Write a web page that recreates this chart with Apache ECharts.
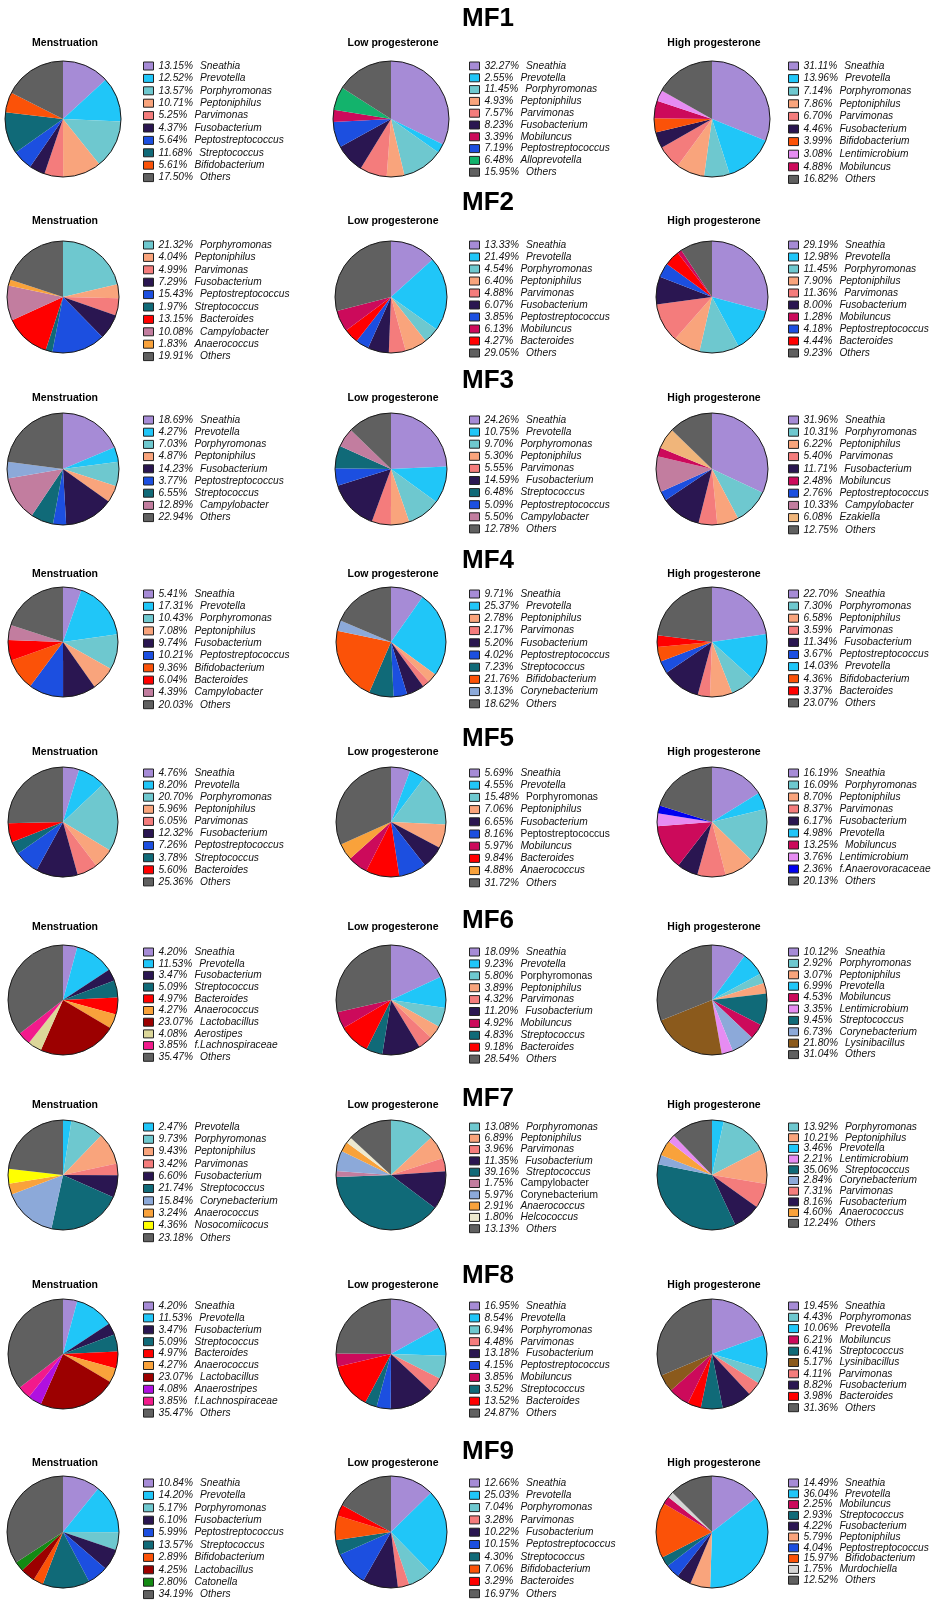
<!DOCTYPE html>
<html><head><meta charset="utf-8">
<script src="https://cdn.jsdelivr.net/npm/echarts@6/dist/echarts.min.js"></script>
<style>html,body{margin:0;padding:0;background:#fff}#c{width:934px;height:1600px}</style>
</head><body><div id="c"></div>
<script>
// ---------- DATA ----------
const rowTitles = ['MF1','MF2','MF3','MF4','MF5','MF6','MF7','MF8','MF9'];
const phases = ['Menstruation','Low progesterone','High progesterone'];

const MF1_men_taxa = ['Sneathia','Prevotella','Porphyromonas','Peptoniphilus','Parvimonas','Fusobacterium','Peptostreptococcus','Streptococcus','Bifidobacterium','Others'];
const MF1_men_pct  = [13.15,12.52,13.57,10.71,5.25,4.37,5.64,11.68,5.61,17.50];
const MF1_low_taxa = ['Sneathia','Prevotella','Porphyromonas','Peptoniphilus','Parvimonas','Fusobacterium','Mobiluncus','Peptostreptococcus','Alloprevotella','Others'];
const MF1_low_pct  = [32.27,2.55,11.45,4.93,7.57,8.23,3.39,7.19,6.48,15.95];
const MF1_high_taxa = ['Sneathia','Prevotella','Porphyromonas','Peptoniphilus','Parvimonas','Fusobacterium','Bifidobacterium','Lentimicrobium','Mobiluncus','Others'];
const MF1_high_pct  = [31.11,13.96,7.14,7.86,6.70,4.46,3.99,3.08,4.88,16.82];

const MF2_men_taxa = ['Porphyromonas','Peptoniphilus','Parvimonas','Fusobacterium','Peptostreptococcus','Streptococcus','Bacteroides','Campylobacter','Anaerococcus','Others'];
const MF2_men_pct  = [21.32,4.04,4.99,7.29,15.43,1.97,13.15,10.08,1.83,19.91];
const MF2_low_taxa = ['Sneathia','Prevotella','Porphyromonas','Peptoniphilus','Parvimonas','Fusobacterium','Peptostreptococcus','Mobiluncus','Bacteroides','Others'];
const MF2_low_pct  = [13.33,21.49,4.54,6.40,4.88,6.07,3.85,6.13,4.27,29.05];
const MF2_high_taxa = ['Sneathia','Prevotella','Porphyromonas','Peptoniphilus','Parvimonas','Fusobacterium','Mobiluncus','Peptostreptococcus','Bacteroides','Others'];
const MF2_high_pct  = [29.19,12.98,11.45,7.90,11.36,8.00,1.28,4.18,4.44,9.23];

const MF3_men_taxa = ['Sneathia','Prevotella','Porphyromonas','Peptoniphilus','Fusobacterium','Peptostreptococcus','Streptococcus','Campylobacter','Others'];
const MF3_men_pct  = [18.69,4.27,7.03,4.87,14.23,3.77,6.55,12.89,22.94];
const MF3_men_unlisted_taxa = ['Corynebacterium'];   // slice drawn in the pie but absent from its legend
const MF3_men_unlisted_pct  = [4.76];
const MF3_low_taxa = ['Sneathia','Prevotella','Porphyromonas','Peptoniphilus','Parvimonas','Fusobacterium','Streptococcus','Peptostreptococcus','Campylobacter','Others'];
const MF3_low_pct  = [24.26,10.75,9.70,5.30,5.55,14.59,6.48,5.09,5.50,12.78];
const MF3_high_taxa = ['Sneathia','Porphyromonas','Peptoniphilus','Parvimonas','Fusobacterium','Mobiluncus','Peptostreptococcus','Campylobacter','Ezakiella','Others'];
const MF3_high_pct  = [31.96,10.31,6.22,5.40,11.71,2.48,2.76,10.33,6.08,12.75];

const MF4_men_taxa = ['Sneathia','Prevotella','Porphyromonas','Peptoniphilus','Fusobacterium','Peptostreptococcus','Bifidobacterium','Bacteroides','Campylobacter','Others'];
const MF4_men_pct  = [5.41,17.31,10.43,7.08,9.74,10.21,9.36,6.04,4.39,20.03];
const MF4_low_taxa = ['Sneathia','Prevotella','Peptoniphilus','Parvimonas','Fusobacterium','Peptostreptococcus','Streptococcus','Bifidobacterium','Corynebacterium','Others'];
const MF4_low_pct  = [9.71,25.37,2.78,2.17,5.20,4.02,7.23,21.76,3.13,18.62];
const MF4_high_taxa = ['Sneathia','Porphyromonas','Peptoniphilus','Parvimonas','Fusobacterium','Peptostreptococcus','Prevotella','Bifidobacterium','Bacteroides','Others'];
const MF4_high_pct  = [22.70,7.30,6.58,3.59,11.34,3.67,14.03,4.36,3.37,23.07];

const MF5_men_taxa = ['Sneathia','Prevotella','Porphyromonas','Peptoniphilus','Parvimonas','Fusobacterium','Peptostreptococcus','Streptococcus','Bacteroides','Others'];
const MF5_men_pct  = [4.76,8.20,20.70,5.96,6.05,12.32,7.26,3.78,5.60,25.36];
const MF5_low_taxa = ['Sneathia','Prevotella','Porphyromonas','Peptoniphilus','Fusobacterium','Peptostreptococcus','Mobiluncus','Bacteroides','Anaerococcus','Others'];
const MF5_low_pct  = [5.69,4.55,15.48,7.06,6.65,8.16,5.97,9.84,4.88,31.72];
const MF5_high_taxa = ['Sneathia','Porphyromonas','Peptoniphilus','Parvimonas','Fusobacterium','Prevotella','Mobiluncus','Lentimicrobium','f.Anaerovoracaceae','Others'];
const MF5_high_pct  = [16.19,16.09,8.70,8.37,6.17,4.98,13.25,3.76,2.36,20.13];

const MF6_men_taxa = ['Sneathia','Prevotella','Fusobacterium','Streptococcus','Bacteroides','Anaerococcus','Lactobacillus','Aerostipes','f.Lachnospiraceae','Others'];
const MF6_men_pct  = [4.20,11.53,3.47,5.09,4.97,4.27,23.07,4.08,3.85,35.47];
const MF6_low_taxa = ['Sneathia','Prevotella','Porphyromonas','Peptoniphilus','Parvimonas','Fusobacterium','Mobiluncus','Streptococcus','Bacteroides','Others'];
const MF6_low_pct  = [18.09,9.23,5.80,3.89,4.32,11.20,4.92,4.83,9.18,28.54];
const MF6_high_taxa = ['Sneathia','Porphyromonas','Peptoniphilus','Prevotella','Mobiluncus','Lentimicrobium','Streptococcus','Corynebacterium','Lysinibacillus','Others'];
const MF6_high_pct  = [10.12,2.92,3.07,6.99,4.53,3.35,9.45,6.73,21.80,31.04];

const MF7_men_taxa = ['Prevotella','Porphyromonas','Peptoniphilus','Parvimonas','Fusobacterium','Streptococcus','Corynebacterium','Anaerococcus','Nosocomiicocus','Others'];
const MF7_men_pct  = [2.47,9.73,9.43,3.42,6.60,21.74,15.84,3.24,4.36,23.18];
const MF7_low_taxa = ['Porphyromonas','Peptoniphilus','Parvimonas','Fusobacterium','Streptococcus','Campylobacter','Corynebacterium','Anaerococcus','Helcococcus','Others'];
const MF7_low_pct  = [13.08,6.89,3.96,11.35,39.16,1.75,5.97,2.91,1.80,13.13];
const MF7_high_taxa = ['Porphyromonas','Peptoniphilus','Prevotella','Lentimicrobium','Streptococcus','Corynebacterium','Parvimonas','Fusobacterium','Anaerococcus','Others'];
const MF7_high_pct  = [13.92,10.21,3.46,2.21,35.06,2.84,7.31,8.16,4.60,12.24];

const MF8_men_taxa = ['Sneathia','Prevotella','Fusobacterium','Streptococcus','Bacteroides','Anaerococcus','Lactobacillus','Anaerostripes','f.Lachnospiraceae','Others'];
const MF8_men_pct  = [4.20,11.53,3.47,5.09,4.97,4.27,23.07,4.08,3.85,35.47];
const MF8_low_taxa = ['Sneathia','Prevotella','Porphyromonas','Parvimonas','Fusobacterium','Peptostreptococcus','Mobiluncus','Streptococcus','Bacteroides','Others'];
const MF8_low_pct  = [16.95,8.54,6.94,4.48,13.18,4.15,3.85,3.52,13.52,24.87];
const MF8_high_taxa = ['Sneathia','Porphyromonas','Prevotella','Mobiluncus','Streptococcus','Lysinibacillus','Parvimonas','Fusobacterium','Bacteroides','Others'];
const MF8_high_pct  = [19.45,4.43,10.06,6.21,6.41,5.17,4.11,8.82,3.98,31.36];

const MF9_men_taxa = ['Sneathia','Prevotella','Porphyromonas','Fusobacterium','Peptostreptococcus','Streptococcus','Bifidobacterium','Lactobacillus','Catonella','Others'];
const MF9_men_pct  = [10.84,14.20,5.17,6.10,5.99,13.57,2.89,4.25,2.80,34.19];
const MF9_low_taxa = ['Sneathia','Prevotella','Porphyromonas','Parvimonas','Fusobacterium','Peptostreptococcus','Streptococcus','Bifidobacterium','Bacteroides','Others'];
const MF9_low_pct  = [12.66,25.03,7.04,3.28,10.22,10.15,4.30,7.06,3.29,16.97];
const MF9_high_taxa = ['Sneathia','Prevotella','Mobiluncus','Streptococcus','Fusobacterium','Peptoniphilus','Peptostreptococcus','Bifidobacterium','Murdochiella','Others'];
const MF9_high_pct  = [14.49,36.04,2.25,2.93,4.22,5.79,4.04,15.97,1.75,12.52];

// order in which slices run clockwise from 12 o'clock
const sliceOrder = ['Sneathia','Prevotella','Porphyromonas','Peptoniphilus','Parvimonas','Fusobacterium','Peptostreptococcus','Streptococcus','Bifidobacterium','Bacteroides','Campylobacter','Mobiluncus','Corynebacterium','Anaerococcus','Lentimicrobium','Lactobacillus','Aerostipes','Anaerostripes','f.Lachnospiraceae','f.Anaerovoracaceae','Lysinibacillus','Nosocomiicocus','Helcococcus','Catonella','Alloprevotella','Ezakiella','Murdochiella','Others'];

// ---------- STYLE ----------
const taxonColor = {
  'Sneathia':'#a68bd6','Prevotella':'#20c6f8','Porphyromonas':'#6ec8cf','Peptoniphilus':'#f9a47c',
  'Parvimonas':'#f47c7c','Fusobacterium':'#2a1651','Peptostreptococcus':'#1c4fe0','Streptococcus':'#106a78',
  'Bifidobacterium':'#fb5208','Bacteroides':'#ff0000','Campylobacter':'#c27d9f','Mobiluncus':'#cc0a5b',
  'Corynebacterium':'#8ca9d9','Anaerococcus':'#f9a23b','Lentimicrobium':'#e68cf2','Lactobacillus':'#9c0000',
  'Aerostipes':'#dcd79a','Anaerostripes':'#b010e0','f.Lachnospiraceae':'#f21a8c','f.Anaerovoracaceae':'#0000f0',
  'Lysinibacillus':'#8b5a1c','Nosocomiicocus':'#ffff00','Helcococcus':'#ede9cf','Catonella':'#138a13',
  'Alloprevotella':'#13b36c','Ezakiella':'#f0b57a','Murdochiella':'#d5d5d5','Others':'#606060'
};
const uprightEntries = ['MF5|1|Porphyromonas','MF5|1|Peptostreptococcus','MF6|1|Porphyromonas','MF7|1|Campylobacter','MF7|1|Corynebacterium'];

const pieX = [63, 391, 712];
const legendX = [143, 469, 788];
const rowPieY = [119, 297, 469, 642, 822, 1000, 1175, 1354, 1532];
const rowRadius = [58, 56, 56, 55, 55, 55, 55, 55, 56];
const rowTitleY = [19, 203, 381, 561, 739, 921, 1099, 1276, 1452];
const rowSubY = [43, 221, 398, 574, 752, 927, 1105, 1285, 1463];
const rowLegendY = [66, 245, 420, 594, 773, 952, 1127, 1306, 1483];
const legendStep = [
  [12.4, 11.8, 12.6],[12.4, 12.0, 12.0],[12.2, 12.1, 12.2],
  [12.3, 12.2, 12.1],[12.1, 12.2, 12.0],[11.7, 11.9, 11.4],
  [12.3, 11.3, 10.7],[11.9, 11.9, 11.3],[12.4, 12.3, 10.8]];

const FONT = '"Liberation Sans Narrow","Arial Narrow","Liberation Sans",Arial,sans-serif';
const FONT_REG = '"Liberation Sans",Arial,sans-serif';
const LFS = 10.2;

// ---------- BUILD ----------
const sets = {
  MF1:[[MF1_men_taxa,MF1_men_pct],[MF1_low_taxa,MF1_low_pct],[MF1_high_taxa,MF1_high_pct]],
  MF2:[[MF2_men_taxa,MF2_men_pct],[MF2_low_taxa,MF2_low_pct],[MF2_high_taxa,MF2_high_pct]],
  MF3:[[MF3_men_taxa,MF3_men_pct,MF3_men_unlisted_taxa,MF3_men_unlisted_pct],[MF3_low_taxa,MF3_low_pct],[MF3_high_taxa,MF3_high_pct]],
  MF4:[[MF4_men_taxa,MF4_men_pct],[MF4_low_taxa,MF4_low_pct],[MF4_high_taxa,MF4_high_pct]],
  MF5:[[MF5_men_taxa,MF5_men_pct],[MF5_low_taxa,MF5_low_pct],[MF5_high_taxa,MF5_high_pct]],
  MF6:[[MF6_men_taxa,MF6_men_pct],[MF6_low_taxa,MF6_low_pct],[MF6_high_taxa,MF6_high_pct]],
  MF7:[[MF7_men_taxa,MF7_men_pct],[MF7_low_taxa,MF7_low_pct],[MF7_high_taxa,MF7_high_pct]],
  MF8:[[MF8_men_taxa,MF8_men_pct],[MF8_low_taxa,MF8_low_pct],[MF8_high_taxa,MF8_high_pct]],
  MF9:[[MF9_men_taxa,MF9_men_pct],[MF9_low_taxa,MF9_low_pct],[MF9_high_taxa,MF9_high_pct]]
};

const series = [], legends = [], graphics = [];
rowTitles.forEach((mf, r) => {
  graphics.push({type:'text', x:488, y:rowTitleY[r], style:{text:mf, font:'bold 26px '+FONT, fill:'#000', align:'center', verticalAlign:'middle'}});
  sets[mf].forEach((set, c) => {
    const [taxa, pct, extraTaxa, extraPct] = set;
    graphics.push({type:'text', x:pieX[c]+2, y:rowSubY[r], style:{text:phases[c], font:'bold 10.5px '+FONT_REG, fill:'#000', align:'center', verticalAlign:'middle'}});
    let items = taxa.map((t,i)=>({name:t, value:pct[i]}));
    if (extraTaxa) items = items.concat(extraTaxa.map((t,i)=>({name:t, value:extraPct[i]})));
    items.sort((a,b)=>sliceOrder.indexOf(a.name)-sliceOrder.indexOf(b.name));
    series.push({
      type:'pie', center:[pieX[c], rowPieY[r]], radius:rowRadius[r], startAngle:90, clockwise:true,
      silent:true, animation:false, avoidLabelOverlap:false, label:{show:false}, labelLine:{show:false},
      emphasis:{disabled:true},
      data: items.map(d=>({name:d.name, value:d.value, itemStyle:{color:taxonColor[d.name], borderWidth:0}}))
    });
    series.push({
      type:'pie', center:[pieX[c], rowPieY[r]], radius:rowRadius[r], silent:true, animation:false,
      label:{show:false}, labelLine:{show:false}, emphasis:{disabled:true}, z:5,
      data:[{name:'__outline', value:1, itemStyle:{color:'rgba(0,0,0,0)', borderColor:'#1a1a1a', borderWidth:1}}]
    });
    const step = legendStep[r][c];
    const lookup = {}; taxa.forEach((t,i)=>lookup[t]=pct[i]);
    legends.push({
      orient:'vertical', left:legendX[c], top:rowLegendY[r]-step/2, height:300, padding:0, itemGap:0,
      itemWidth:10, itemHeight:8, icon:'rect', selectedMode:false, data:taxa,
      itemStyle:{borderColor:'#222', borderWidth:1},
      formatter: name => {
        const tag = uprightEntries.includes(mf+'|'+c+'|'+name) ? 'u' : 'n';
        return '{p|' + lookup[name].toFixed(2) + '%}{' + tag + '|' + name + '}';
      },
      textStyle:{
        fontSize:LFS, lineHeight:step, color:'#111', fontFamily:FONT, fontStyle:'italic',
        rich:{
          p:{fontSize:LFS, lineHeight:step, fontFamily:FONT, fontStyle:'italic', color:'#111'},
          n:{fontSize:LFS, lineHeight:step, fontFamily:FONT, fontStyle:'italic', color:'#111', padding:[0,0,0,7]},
          u:{fontSize:LFS, lineHeight:step, fontFamily:FONT, fontStyle:'normal', color:'#111', padding:[0,0,0,7]}
        }
      }
    });
  });
});

const chart = echarts.init(document.getElementById('c'), null, {renderer:'canvas'});
chart.setOption({backgroundColor:'#fff', animation:false, legend:legends, series:series, graphic:graphics});
</script>
</body></html>
